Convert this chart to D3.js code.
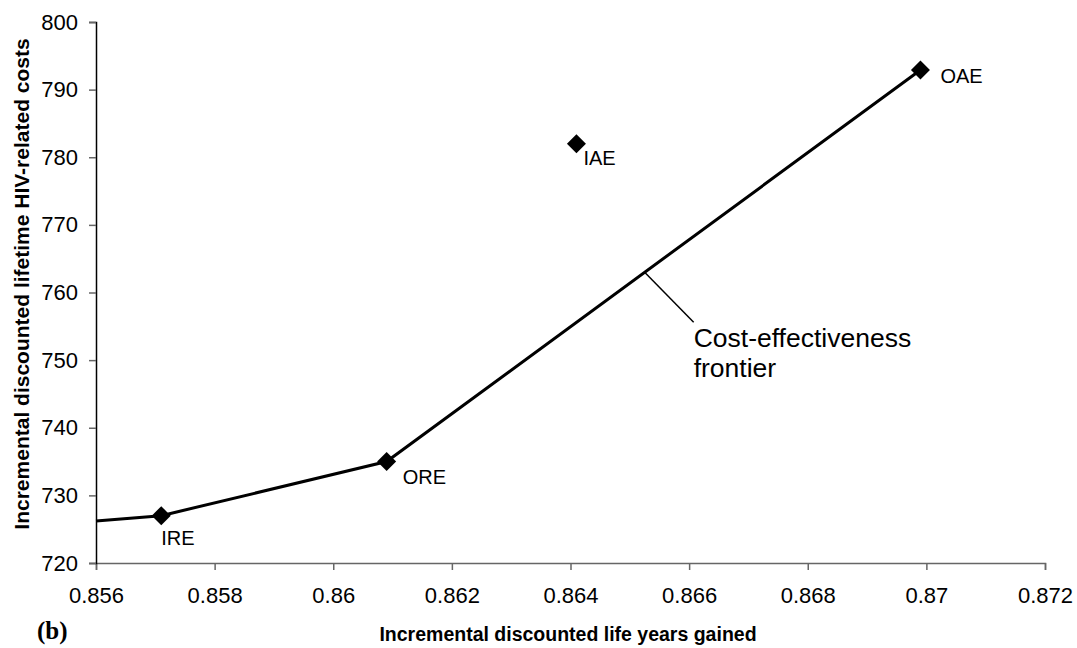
<!DOCTYPE html>
<html>
<head>
<meta charset="utf-8">
<script src="https://cdn.jsdelivr.net/npm/d3@7"></script>
<style>
  body { margin: 0; background: #fff; }
  text { font-family: "Liberation Sans", Arial, sans-serif; }
</style>
</head>
<body>
<div id="chart"></div>
<script>
// DATA
var strategyNames = ["IRE", "ORE", "IAE", "OAE"]
var lifeYears = [0.8571, 0.8609, 0.8641, 0.8699]
var costs = [727, 735, 782, 792.9]

// frontier path (first point is where the line enters at the left edge)
var frontierX = [0.856, 0.8571, 0.8609, 0.8699]
var frontierY = [726.2, 727, 735, 792.9]

var xTicks = [0.856, 0.858, 0.86, 0.862, 0.864, 0.866, 0.868, 0.87, 0.872]
var yTicks = [720, 730, 740, 750, 760, 770, 780, 790, 800]

// DIMENSIONS
var svgWidth = 1077
var svgHeight = 648

var margin = { top: 22, right: 32, bottom: 85, left: 96 }
var width = svgWidth - margin.left - margin.right
var height = svgHeight - margin.top - margin.bottom

var svg = d3.select("#chart").append("svg")
    .attr("width", svgWidth)
    .attr("height", svgHeight)

var chartGroup = svg.append("g")
    .attr("transform", `translate(${margin.left}, ${margin.top})`)

var xScale = d3.scaleLinear().domain([0.856, 0.872]).range([0, width])
var yScale = d3.scaleLinear().domain([720, 800]).range([height, 0])

// AXES
var xAxis = d3.axisBottom(xScale)
    .tickValues(xTicks)
    .tickSize(7)
    .tickPadding(17)
    .tickFormat(d => +d.toFixed(3) + "")

var yAxis = d3.axisLeft(yScale)
    .tickValues(yTicks)
    .tickSize(7)
    .tickPadding(11)

var xG = chartGroup.append("g")
    .attr("transform", `translate(0,${height})`)
    .call(xAxis)
xG.select(".domain").attr("stroke", "#666").attr("stroke-width", 1.5)
xG.selectAll(".tick line").attr("stroke", "#666").attr("stroke-width", 1.5)
xG.selectAll(".tick text").attr("font-size", 22).attr("fill", "#000")
    .attr("font-family", "Liberation Sans, Arial, sans-serif")

var yG = chartGroup.append("g").call(yAxis)
yG.select(".domain").attr("stroke", "#000").attr("stroke-width", 1.5)
yG.selectAll(".tick line").attr("stroke", "#666").attr("stroke-width", 1.5)
yG.selectAll(".tick text").attr("font-size", 22).attr("fill", "#000")
    .attr("font-family", "Liberation Sans, Arial, sans-serif")

// FRONTIER LINE
var frontier = frontierX.map((x, i) => [x, frontierY[i]])
var line = d3.line()
    .x(d => xScale(d[0]))
    .y(d => yScale(d[1]))

chartGroup.append("path")
    .datum(frontier)
    .attr("d", line)
    .attr("fill", "none")
    .attr("stroke", "#000")
    .attr("stroke-width", 3)

// POINTS
var points = strategyNames.map((n, i) => ({ name: n, x: lifeYears[i], y: costs[i] }))
var labelOffsets = { IRE: [0, 29], ORE: [16, 22], IAE: [7, 21], OAE: [20, 13] }

chartGroup.selectAll("path.pt")
    .data(points)
    .enter()
    .append("path")
    .attr("class", "pt")
    .attr("d", d3.symbol(d3.symbolSquare, 180))
    .attr("transform", d => `translate(${xScale(d.x)},${yScale(d.y)}) rotate(45)`)
    .attr("fill", "#000")

chartGroup.selectAll("text.ptLabel")
    .data(points)
    .enter()
    .append("text")
    .attr("class", "ptLabel")
    .attr("x", d => xScale(d.x) + labelOffsets[d.name][0])
    .attr("y", d => yScale(d.y) + labelOffsets[d.name][1])
    .attr("font-size", 20)
    .text(d => d.name)

// ANNOTATION
var annX = 0.86525
var annY = frontierY[2] + (annX - frontierX[2]) / (frontierX[3] - frontierX[2]) * (frontierY[3] - frontierY[2])
var ax = xScale(annX), ay = yScale(annY)

chartGroup.append("line")
    .attr("x1", ax).attr("y1", ay)
    .attr("x2", ax + 49).attr("y2", ay + 50)
    .attr("stroke", "#000")
    .attr("stroke-width", 1.5)

var ann = chartGroup.append("text")
    .attr("x", ax + 49)
    .attr("y", ay + 75)
    .attr("font-size", 26.5)
ann.append("tspan").text("Cost-effectiveness")
ann.append("tspan").attr("x", ax + 49).attr("dy", 30).text("frontier")

// AXIS TITLES
svg.append("text")
    .attr("x", 568)
    .attr("y", 641)
    .attr("text-anchor", "middle")
    .attr("font-size", 19.5)
    .attr("font-weight", "bold")
    .text("Incremental discounted life years gained")

svg.append("text")
    .attr("transform", "translate(29, 284) rotate(-90)")
    .attr("text-anchor", "middle")
    .attr("font-size", 21)
    .attr("font-weight", "bold")
    .text("Incremental discounted lifetime HIV-related costs")

svg.append("text")
    .attr("x", 37)
    .attr("y", 639)
    .attr("font-size", 25)
    .attr("font-weight", "bold")
    .style("font-family", "Liberation Serif, Times New Roman, serif")
    .text("(b)")
</script>
</body>
</html>
